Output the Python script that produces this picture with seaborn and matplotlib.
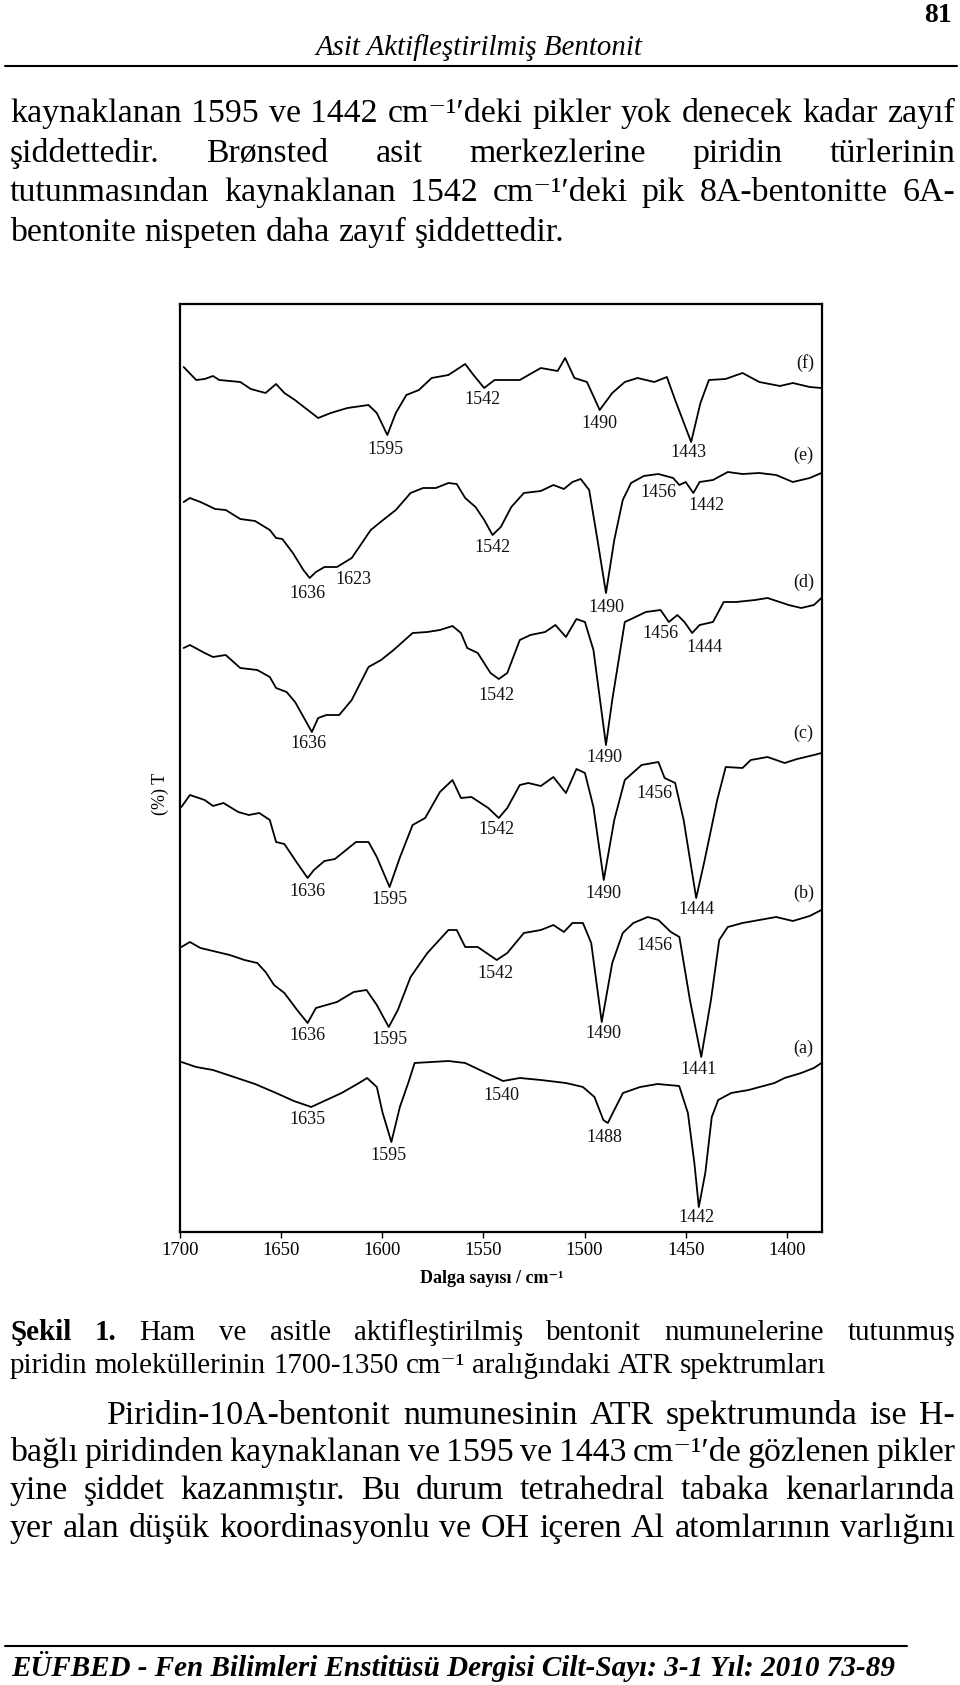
import matplotlib
matplotlib.use("Agg")
import matplotlib.pyplot as plt
from matplotlib.lines import Line2D
import numpy as np
import pandas as pd
import seaborn as sns

# ---------------- data ----------------
f_wn = [1698.2,1692.0,1687.8,1683.7,1680.6,1670.2,1665.0,1657.7,1652.5,1648.4,1643.2,1631.7,1625.5,1617.2,1606.8,1602.7,1597.5,1593.3,1588.1,1581.9,1575.6,1567.3,1559.0,1554.9,1549.6,1544.5,1538.2,1532.0,1521.6,1513.3,1509.6,1505.0,1498.8,1492.5,1486.3,1480.1,1473.8,1465.5,1459.3,1455.2,1447.3,1442.7,1438.5,1430.3,1421.9,1413.6,1403.4,1397.0,1388.7,1382.9]
f_T = [86.5,85.2,85.3,85.6,85.2,85.0,84.3,83.9,84.8,83.9,83.2,81.4,81.9,82.4,82.7,81.9,79.7,81.9,83.7,84.2,85.4,85.7,86.8,85.7,84.4,85.2,85.2,85.2,86.4,86.1,87.4,85.4,85.0,82.2,83.9,85.0,85.4,85.0,85.5,83.2,79.0,82.9,85.2,85.3,85.9,85.0,84.6,84.9,84.5,84.4]

e_wn = [1698.2,1695.1,1689.9,1682.6,1677.4,1670.2,1662.9,1655.6,1652.5,1649.4,1644.2,1639.0,1635.9,1632.8,1628.6,1622.4,1615.1,1605.7,1599.6,1593.3,1586.0,1579.8,1573.5,1567.3,1563.2,1559.0,1553.9,1549.6,1545.5,1541.4,1536.2,1530.0,1521.6,1515.4,1510.2,1506.0,1501.9,1497.7,1493.6,1489.4,1485.3,1481.1,1477.0,1470.7,1463.5,1456.2,1453.1,1450.0,1446.2,1443.1,1436.5,1429.2,1421.9,1413.6,1405.3,1397.0,1388.7,1382.9]
e_T = [73.0,73.4,73.0,72.3,72.2,71.3,71.1,70.2,69.4,69.3,67.9,66.2,65.4,66.0,66.5,66.5,67.4,70.2,71.2,72.2,73.9,74.4,74.4,74.9,74.8,73.4,72.5,71.2,69.7,70.5,72.5,73.9,74.1,74.7,74.3,75.0,75.3,74.2,69.2,63.9,69.2,73.2,74.9,75.6,75.8,75.4,74.7,75.0,73.9,75.0,75.2,76.0,75.8,75.9,75.7,75.0,75.4,75.9]

d_wn = [1698.2,1695.1,1687.8,1683.7,1677.4,1670.2,1661.8,1655.6,1652.5,1647.3,1643.1,1634.8,1631.7,1627.6,1621.3,1615.1,1606.8,1600.6,1594.4,1585.0,1577.7,1571.5,1565.3,1561.1,1558.0,1552.8,1546.5,1542.4,1538.2,1532.0,1526.8,1519.5,1514.4,1509.2,1504.0,1499.8,1495.6,1489.4,1486.3,1480.1,1475.9,1469.7,1462.4,1458.3,1454.1,1450.6,1446.8,1443.1,1436.5,1431.2,1425.1,1415.7,1409.5,1399.1,1392.9,1386.6,1382.9]
d_T = [58.4,58.7,57.9,57.5,57.7,56.4,56.2,55.5,54.4,54.0,53.0,50.0,51.4,51.7,51.7,53.2,56.5,57.2,58.2,59.9,60.0,60.2,60.6,59.9,58.4,57.9,55.9,55.3,55.9,59.2,59.7,60.0,60.7,59.5,61.3,61.0,58.2,48.7,53.2,61.0,61.4,62.0,62.2,61.0,61.7,61.0,59.9,60.7,61.0,63.0,63.0,63.2,63.4,62.7,62.4,62.7,63.4]

c_wn = [1699.3,1695.1,1687.8,1683.7,1678.5,1671.2,1666.0,1660.8,1655.6,1652.5,1648.4,1642.1,1636.9,1633.8,1628.6,1623.4,1613.0,1606.8,1602.7,1596.4,1591.2,1585.0,1578.8,1571.5,1565.3,1561.1,1555.9,1547.6,1542.4,1538.2,1532.0,1527.8,1521.6,1515.4,1509.2,1504.0,1499.8,1495.6,1490.5,1485.3,1480.1,1471.8,1463.5,1460.4,1455.2,1451.0,1444.8,1440.6,1434.4,1430.2,1421.9,1417.8,1409.5,1401.1,1394.9,1386.6,1382.9]
c_T = [42.5,43.7,43.2,42.6,42.9,42.0,41.7,41.9,41.2,39.0,38.8,36.9,35.4,36.2,37.1,37.3,39.0,39.0,37.5,34.5,37.5,40.7,41.4,44.0,45.2,43.4,43.5,42.4,41.4,42.4,44.7,44.9,44.6,45.5,43.9,46.3,45.9,42.5,35.2,41.2,45.2,46.7,47.0,45.4,44.9,41.2,33.4,37.2,43.2,46.5,46.4,47.2,47.5,46.9,47.3,47.7,47.9]

b_wn = [1699.3,1695.1,1689.9,1683.7,1675.4,1668.1,1661.8,1657.7,1653.5,1648.4,1642.1,1636.9,1632.8,1627.6,1622.4,1614.1,1607.8,1602.7,1596.8,1592.3,1586.0,1577.7,1567.3,1563.2,1559.0,1552.8,1543.4,1538.2,1530.0,1521.6,1515.4,1510.2,1506.0,1500.8,1496.7,1491.5,1486.3,1481.1,1475.9,1468.7,1463.5,1457.3,1453.1,1447.9,1442.3,1437.5,1433.4,1429.2,1421.9,1413.6,1405.3,1397.0,1388.7,1382.9]
b_T = [28.5,29.0,28.4,28.1,27.7,27.2,26.9,26.0,24.7,23.9,22.2,20.9,22.4,22.7,23.0,24.0,24.2,22.7,20.5,22.2,25.5,27.9,30.2,30.2,28.5,28.5,27.2,27.9,29.9,30.2,30.7,30.0,30.9,30.9,28.9,21.0,26.9,29.9,30.9,31.5,31.2,30.0,29.5,23.2,17.5,23.2,29.2,30.5,30.9,31.2,31.5,31.1,31.6,32.2]

a_wn = [1699.3,1692.0,1683.7,1673.3,1662.9,1652.5,1643.7,1635.1,1629.8,1620.1,1611.5,1607.5,1602.7,1599.8,1595.5,1591.3,1587.0,1584.0,1575.6,1567.3,1559.0,1548.6,1540.3,1532.0,1521.6,1509.2,1500.8,1495.1,1490.7,1488.5,1485.3,1481.0,1472.5,1463.9,1453.2,1448.9,1445.7,1443.5,1440.3,1437.1,1433.9,1427.5,1418.9,1406.1,1401.1,1392.9,1386.6,1382.9]
a_T = [17.0,16.5,16.2,15.5,14.8,13.9,13.1,12.5,13.0,13.9,14.9,15.4,14.5,11.9,9.0,12.5,15.0,16.9,17.0,17.1,16.9,15.9,15.1,15.4,15.2,14.9,14.5,13.5,11.2,10.9,12.2,13.9,14.5,14.8,14.6,11.9,6.9,2.5,5.9,11.5,13.2,13.9,14.2,14.9,15.4,15.9,16.4,16.9]

# peak / curve annotations
ann_text = ['1595','1542','1490','1443','(f)',
            '(e)','1456','1442','1542','1636','1623','1490',
            '(d)','1456','1444','1542','1636','1490',
            '(c)','1456','1542','1636','1595','1490','1444',
            '(b)','1456','1542','1636','1595','1490','1441',
            '(a)','1540','1635','1595','1488','1442']
ann_wn = [1598.5,1550.3,1492.5,1448.5,1390.8,
          1391.8,1463.5,1439.6,1545.5,1636.9,1614.1,1489.4,
          1391.8,1462.4,1440.6,1543.4,1636.6,1490.2,
          1391.8,1465.5,1543.4,1636.9,1596.4,1490.5,1444.8,
          1391.8,1465.5,1544.1,1636.9,1596.4,1490.5,1443.7,
          1391.8,1541.0,1636.8,1597.0,1490.0,1444.6]
ann_T = [78.3,83.3,80.8,77.9,86.9,
         77.7,73.9,72.6,68.4,63.9,65.3,62.5,
         65.0,59.9,58.5,53.6,48.9,47.4,
         49.9,43.9,40.2,34.0,33.2,33.9,32.2,
         33.9,28.7,25.9,19.7,19.2,19.9,16.2,
         18.4,13.7,11.3,7.7,9.5,1.5]

x_ticks = [1700, 1650, 1600, 1550, 1500, 1450, 1400]
x_label = "Dalga sayısı / cm⁻¹"
y_label = "(%) T"

header_title = "Asit Aktifleştirilmiş Bentonit"
page_number = "81"
para1 = ["kaynaklanan 1595 ve 1442 cm⁻¹′deki pikler yok denecek kadar zayıf",
         "şiddettedir. Brønsted asit merkezlerine piridin türlerinin",
         "tutunmasından kaynaklanan 1542 cm⁻¹′deki pik 8A-bentonitte 6A-",
         "bentonite nispeten daha zayıf şiddettedir."]
caption_bold = "Şekil 1."
caption = ["Ham ve asitle aktifleştirilmiş bentonit numunelerine tutunmuş",
           "piridin moleküllerinin 1700-1350 cm⁻¹ aralığındaki ATR spektrumları"]
para2 = ["Piridin-10A-bentonit numunesinin ATR spektrumunda ise H-",
         "bağlı piridinden kaynaklanan ve 1595 ve 1443 cm⁻¹′de gözlenen pikler",
         "yine şiddet kazanmıştır. Bu durum tetrahedral tabaka kenarlarında",
         "yer alan düşük koordinasyonlu ve OH içeren Al atomlarının varlığını"]
footer = "EÜFBED - Fen Bilimleri Enstitüsü Dergisi Cilt-Sayı: 3-1 Yıl: 2010 73-89"

# ---------------- figure ----------------
sns.set_theme(style="white")
plt.rcParams['font.family'] = ['Liberation Serif', 'DejaVu Serif']

W, H = 960, 1685
fig = plt.figure(figsize=(W / 100, H / 100), dpi=100)
fig.patch.set_facecolor('white')
renderer = fig.canvas.get_renderer()


def measure(s, size, weight='normal', style='normal'):
    t = fig.text(0, 0, s, fontsize=size, fontweight=weight, fontstyle=style)
    w = t.get_window_extent(renderer=renderer).width
    t.remove()
    return w


def fit(s, target, weight='normal', style='normal'):
    return 20.0 * target / measure(s, 20.0, weight, style)


def put(x, yb, s, size, weight='normal', style='normal', ha='left'):
    fig.text(x / W, 1 - yb / H, s, fontsize=size, fontweight=weight,
             fontstyle=style, ha=ha, va='baseline', color='black')


def draw_line(words, x0, x1, yb, size, justify=True, weights=None):
    if weights is None:
        weights = ['normal'] * len(words)
    while True:
        ws = [measure(w, size, wt) for w, wt in zip(words, weights)]
        sp = measure('n n', size) - measure('nn', size)
        if justify and len(words) > 1:
            gap = (x1 - x0 - sum(ws)) / (len(words) - 1)
            if gap < 0.55 * sp:
                size *= 0.98
                continue
        else:
            gap = sp
        break
    x = x0
    for w, wt, wd in zip(words, weights, ws):
        put(x, yb, w, size, wt)
        x += wd + gap


# header
put(479, 55, header_title, fit(header_title, 328, style='italic'), style='italic', ha='center')
put(952, 22, page_number, 20, weight='bold', ha='right')
fig.add_artist(Line2D([5 / W, 957 / W], [1 - 66 / H, 1 - 66 / H], color='black', lw=1.5))

# paragraph 1
body = fit(para1[3], 555)
L, R = 10, 955
for i, (line, yb) in enumerate(zip(para1, [122, 162, 201, 241])):
    draw_line(line.split(), L, R, yb, body, justify=(i < 3))

# caption
cap = fit(caption[1], 815)
cap_words = caption[0].split()
w1 = caption_bold.split() + cap_words
draw_line(w1, L, R, 1340, cap, justify=True,
          weights=['bold', 'bold'] + ['normal'] * len(cap_words))
draw_line(caption[1].split(), L, R, 1373, cap, justify=False)

# paragraph 2
for i, (line, yb) in enumerate(zip(para2, [1424, 1461, 1499, 1537])):
    x0 = 107 if i == 0 else L
    draw_line(line.split(), x0, R, yb, body, justify=True)

# footer
fig.add_artist(Line2D([5 / W, 907 / W], [1 - 1646 / H, 1 - 1646 / H], color='black', lw=1.5))
put(11, 1676, footer, fit(footer, 882, weight='bold', style='italic'), weight='bold', style='italic')

# ---------------- spectra ----------------
ax = fig.add_axes([180 / W, 1 - 1232 / H, 642 / W, 928 / H])
ax.set_facecolor('white')
curves = {'a': (a_wn, a_T), 'b': (b_wn, b_T), 'c': (c_wn, c_T),
          'd': (d_wn, d_T), 'e': (e_wn, e_T), 'f': (f_wn, f_T)}
for name, (wn, T) in curves.items():
    df = pd.DataFrame({'wn': wn, 'T': T})
    sns.lineplot(data=df, x='wn', y='T', ax=ax, color='black', lw=1.3,
                 estimator=None, sort=False)

for s, xw, yt in zip(ann_text, ann_wn, ann_T):
    ax.text(xw, yt, s, ha='center', va='center', fontsize=13, color='#111111')

ax.set_xlim(1700, 1382.6)
ax.set_ylim(0, 92.8)
ax.set_yticks([])
ax.set_xticks(x_ticks)
ax.set_xticklabels([str(t) for t in x_ticks])
ax.tick_params(axis='x', direction='out', length=4, width=1.0, pad=3,
               labelsize=13.5, colors='black', bottom=True)
for sp in ax.spines.values():
    sp.set_visible(True)
    sp.set_color('black')
    sp.set_linewidth(1.6)
ax.set_xlabel(x_label, fontsize=13, fontweight='bold', color='black')
ax.xaxis.set_label_coords(0.486, -0.0496)
ax.xaxis.label.set_va('center')
ax.set_ylabel(y_label, fontsize=13, color='black')
ax.yaxis.set_label_coords(-0.031, 0.472)
ax.yaxis.label.set_va('center')

fig.savefig('out.png', dpi=100, facecolor='white')
